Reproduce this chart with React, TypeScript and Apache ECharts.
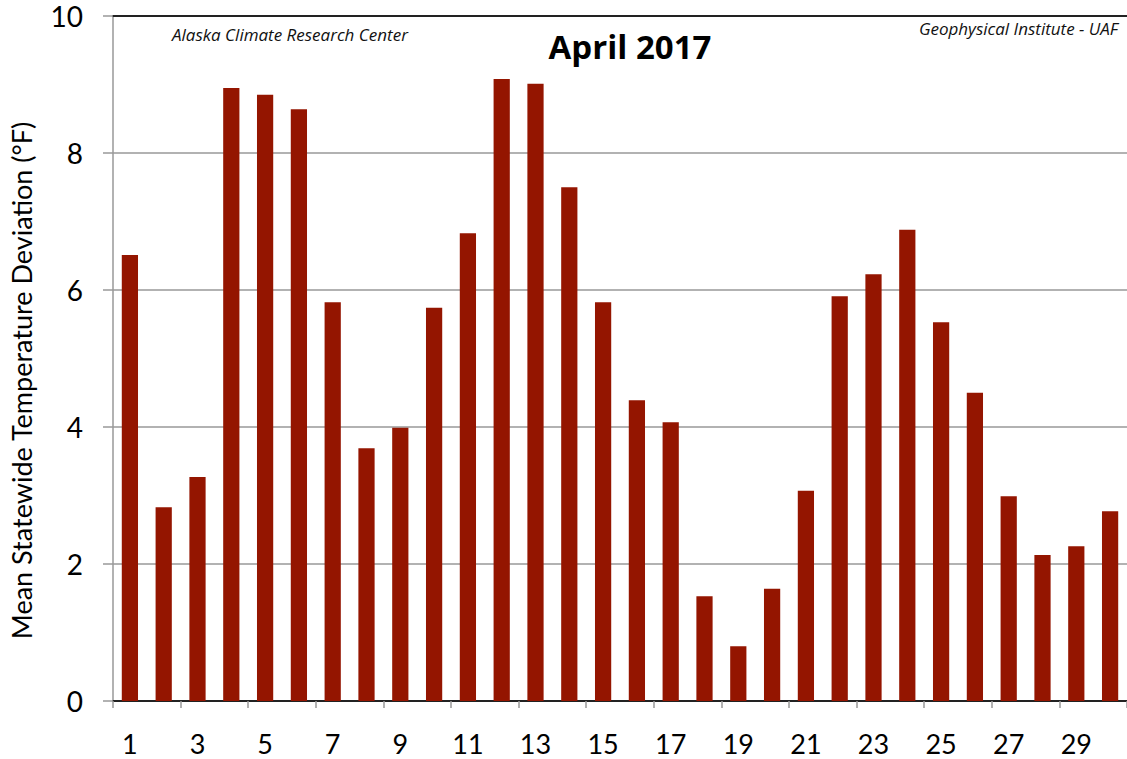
import React, { useEffect, useRef } from "react";
import * as echarts from "echarts";

const days: string[] = Array.from({ length: 30 }, (_, i) => String(i + 1));
const deviations: number[] = [
  6.51, 2.83, 3.27, 8.95, 8.85, 8.64, 5.82, 3.69, 3.99, 5.74,
  6.83, 9.08, 9.01, 7.5, 5.82, 4.39, 4.07, 1.53, 0.8, 1.64,
  3.07, 5.91, 6.23, 6.88, 5.53, 4.5, 2.99, 2.13, 2.26, 2.77,
];
const yTicks = { min: 0, max: 10, interval: 2 };
const titleText = "April 2017";
const leftNote = "Alaska Climate Research Center";
const rightNote = "Geophysical Institute - UAF";
const yName = "Mean Statewide Temperature Deviation (°F)";

export default function App() {
  const ref = useRef<HTMLDivElement>(null);
  useEffect(() => {
    if (!ref.current) return;
    const chart = echarts.init(ref.current, null, { renderer: "svg" });
    const font = "Lato, 'Open Sans', sans-serif";
    const font2 = "'Open Sans', Lato, sans-serif";
    chart.setOption({
      animation: false,
      backgroundColor: "#ffffff",
      textStyle: { fontFamily: font },
      title: {
        text: titleText,
        left: 625,
        top: 25,
        textAlign: "center",
        textStyle: { fontSize: 33, fontWeight: "bold", color: "#000", fontFamily: font2 },
      },
      graphic: [
        {
          type: "text",
          left: 172,
          top: 26,
          style: { text: leftNote, fontSize: 17, fontStyle: "italic", fill: "#111", fontFamily: font2 },
        },
        {
          type: "text",
          right: 9,
          top: 20,
          style: { text: rightNote, fontSize: 17, fontStyle: "italic", fill: "#111", fontFamily: font2 },
        },
      ],
      grid: { left: 110, right: 0, top: 16, bottom: 58, containLabel: false },
      xAxis: [
        {
          type: "category",
          data: days,
          boundaryGap: true,
          axisLine: { show: true, lineStyle: { color: "#222", width: 2 } },
          axisTick: { show: true, alignWithLabel: false, length: 7, lineStyle: { color: "#999", width: 1.5 } },
          axisLabel: { interval: 1, fontSize: 27, lineHeight: 27, color: "#000", margin: 29, fontFamily: font },
          splitLine: { show: false },
        },
        {
          type: "category",
          data: days,
          position: "top",
          axisLine: { show: true, lineStyle: { color: "#222", width: 2 } },
          axisTick: { show: false },
          axisLabel: { show: false },
        },
      ],
      yAxis: {
        type: "value",
        min: yTicks.min,
        max: yTicks.max,
        interval: yTicks.interval,
        name: yName,
        nameLocation: "middle",
        nameGap: 78,
        nameTextStyle: { fontSize: 27, color: "#000", fontFamily: font, padding: [0, 44, 0, 0] },
        axisLine: { show: true, lineStyle: { color: "#999", width: 1.5 } },
        axisTick: { show: true, inside: false, length: 10, lineStyle: { color: "#999", width: 1.5 } },
        axisLabel: { fontSize: 28, color: "#000", margin: 30, fontFamily: font },
        splitLine: { show: true, lineStyle: { color: "#999", width: 1.5 } },
      },
      series: [
        {
          type: "bar",
          data: deviations,
          xAxisIndex: 0,
          barWidth: "48%",
          itemStyle: { color: "#941500" },
        },
      ],
    });
    return () => chart.dispose();
  }, []);
  return (
    <div
      ref={ref}
      style={{ position: "fixed", left: 0, top: 0, width: 1127, height: 759 }}
    />
  );
}
